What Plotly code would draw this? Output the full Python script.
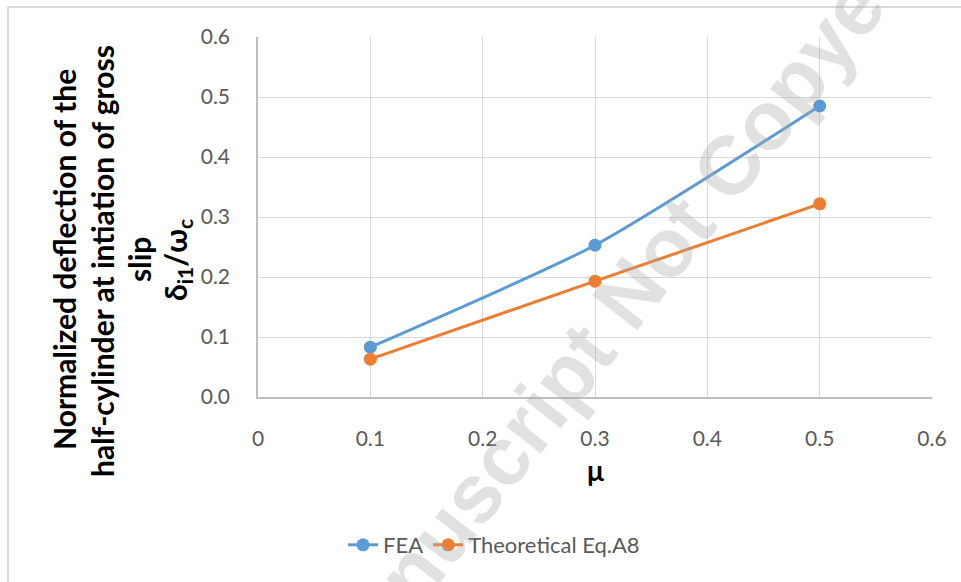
import plotly.graph_objects as go

mu = [0.1, 0.3, 0.5]
fea = [0.083, 0.253, 0.485]
theory = [0.063, 0.193, 0.322]
series_names = ["FEA", "Theoretical Eq.A8"]
x_ticks = [0, 0.1, 0.2, 0.3, 0.4, 0.5, 0.6]
y_ticks = [0.0, 0.1, 0.2, 0.3, 0.4, 0.5, 0.6]

W, H = 961, 582
L, R, T, B = 258, 961 - 932, 37, 582 - 397
pw, ph = W - L - R, H - T - B

def px(x):
    return (x - L) / pw

def py(y):
    return (H - B - y) / ph

font = "Lato, 'Open Sans', sans-serif"

fig = go.Figure()
fig.add_trace(go.Scatter(x=mu, y=fea, name=series_names[0], mode="lines+markers",
                         line=dict(color="#5B9BD5", width=3, shape="spline", smoothing=0.6),
                         marker=dict(size=13, color="#5B9BD5")))
fig.add_trace(go.Scatter(x=mu, y=theory, name=series_names[1], mode="lines+markers",
                         line=dict(color="#ED7D31", width=3, shape="spline", smoothing=0.6),
                         marker=dict(size=13, color="#ED7D31")))

fig.update_layout(
    width=W, height=H,
    margin=dict(l=L, r=R, t=T, b=B),
    plot_bgcolor="white", paper_bgcolor="white",
    font=dict(family=font, size=21, color="#595959"),
    showlegend=True,
    legend=dict(orientation="h", x=px(494), xanchor="center", y=py(545), yanchor="middle",
                font=dict(size=22, color="#595959")),
    xaxis=dict(range=[0, 0.6], tickvals=x_ticks, ticktext=[f"{v:g}" for v in x_ticks],
               showgrid=True, gridcolor="#d9d9d9", gridwidth=1.3,
               showline=True, linecolor="#bfbfbf", linewidth=1.5, zeroline=False,
               ticks="", ticklabelstandoff=22, fixedrange=True),
    yaxis=dict(range=[0, 0.6], tickvals=y_ticks, ticktext=[f"{v:.1f}" for v in y_ticks],
               showgrid=True, gridcolor="#d9d9d9", gridwidth=1.3,
               showline=True, linecolor="#bfbfbf", linewidth=1.5, zeroline=False,
               ticks="", ticklabelstandoff=22, fixedrange=True),
)

# y-axis title, one annotation per line
ytitle_lines = ["Normalized deflection of the", "half-cylinder at intiation of gross", "slip",
                "δ<sub>i1</sub>/ω<sub>c</sub>"]
ytitle_pos = [(64, 260), (102, 261), (139, 260), (177, 260)]
for txt, (lx, ly) in zip(ytitle_lines, ytitle_pos):
    fig.add_annotation(text=txt, xref="paper", yref="paper", x=px(lx), y=py(ly),
                       xanchor="center", yanchor="middle", textangle=-90, showarrow=False,
                       font=dict(family=font, size=30, color="black", weight="bold"))

fig.add_annotation(text="μ", xref="paper", yref="paper", x=px(595), y=py(470),
                   xanchor="center", yanchor="middle", showarrow=False,
                   font=dict(family=font, size=28, color="black", weight="bold"))

# watermark
fig.add_annotation(text="Manuscript Not Copyedited", xref="paper", yref="paper",
                   x=px(656), y=py(259), xanchor="center", yanchor="middle",
                   textangle=-52, showarrow=False,
                   font=dict(family="'Liberation Sans', Arial, sans-serif", size=83,
                             color="rgba(170,170,170,0.35)", weight="bold"))

# outer frame (left and top edges)
fig.add_shape(type="line", xref="paper", yref="paper", x0=px(8), x1=px(8), y0=py(7), y1=py(582),
              line=dict(color="#d9d9d9", width=2))
fig.add_shape(type="line", xref="paper", yref="paper", x0=px(8), x1=px(961), y0=py(7), y1=py(7),
              line=dict(color="#d9d9d9", width=2))

fig.write_html("out.html")
